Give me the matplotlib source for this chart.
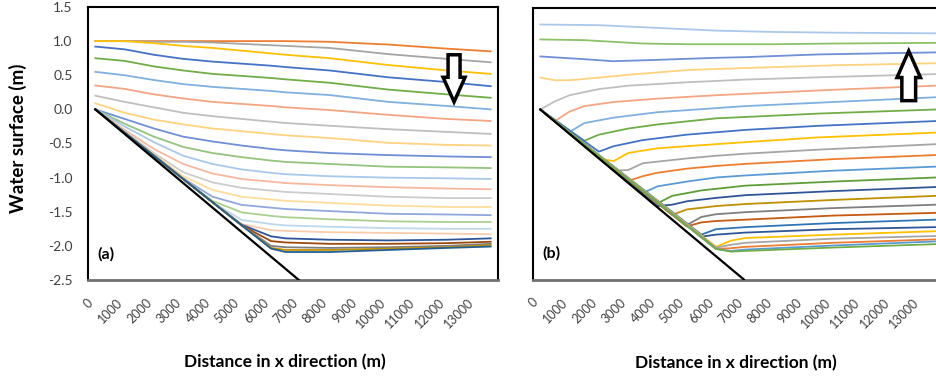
import matplotlib
matplotlib.use("Agg")
import matplotlib.pyplot as plt
from matplotlib.patches import FancyArrow

plt.rcParams['font.family'] = ['Lato', 'DejaVu Sans']

# distance categories shown on the axis
x_ticks = [0, 1000, 2000, 3000, 4000, 5000, 6000, 7000, 8000, 9000, 10000, 11000, 12000, 13000]
y_ticks = [-2.5, -2.0, -1.5, -1.0, -0.5, 0.0, 0.5, 1.0, 1.5]

# sloping bed
bed_x = [0, 6950]
bed_y = [0.0, -2.5]

# ---------------- panel (a): falling water surface ----------------
a_x = [0, 1000, 2000, 3000, 4000, 5000, 6000, 6500, 8000, 10000, 12000, 13500]
a_profiles = [
    [1.00, 1.00, 1.00, 1.00, 1.00, 1.00, 1.00, 1.00, 0.99, 0.95, 0.89, 0.85],
    [1.00, 1.00, 0.99, 0.99, 0.98, 0.96, 0.94, 0.93, 0.90, 0.81, 0.74, 0.69],
    [1.00, 1.00, 0.97, 0.93, 0.90, 0.86, 0.82, 0.80, 0.75, 0.65, 0.57, 0.52],
    [0.92, 0.88, 0.80, 0.74, 0.70, 0.67, 0.64, 0.62, 0.57, 0.47, 0.40, 0.34],
    [0.75, 0.71, 0.63, 0.57, 0.52, 0.49, 0.46, 0.44, 0.39, 0.29, 0.22, 0.17],
    [0.55, 0.50, 0.43, 0.37, 0.33, 0.30, 0.27, 0.25, 0.21, 0.11, 0.05, 0.00],
    [0.35, 0.30, 0.22, 0.16, 0.11, 0.08, 0.05, 0.03, -0.01, -0.08, -0.14, -0.17],
    [0.20, 0.11, 0.03, -0.05, -0.10, -0.14, -0.18, -0.20, -0.24, -0.29, -0.33, -0.36],
    [0.09, -0.05, -0.15, -0.22, -0.28, -0.32, -0.36, -0.38, -0.42, -0.49, -0.52, -0.53],
    [0.00, -0.14, -0.28, -0.40, -0.47, -0.53, -0.58, -0.60, -0.64, -0.67, -0.69, -0.70],
    [0.00, -0.21, -0.40, -0.55, -0.64, -0.70, -0.75, -0.77, -0.80, -0.84, -0.85, -0.86],
    [0.00, -0.25, -0.48, -0.68, -0.80, -0.88, -0.93, -0.95, -0.98, -1.00, -1.01, -1.02],
    [0.00, -0.30, -0.58, -0.80, -0.94, -1.02, -1.06, -1.08, -1.11, -1.14, -1.16, -1.17],
    [0.00, -0.32, -0.64, -0.92, -1.07, -1.15, -1.19, -1.21, -1.24, -1.28, -1.30, -1.30],
    [0.00, -0.33, -0.66, -0.98, -1.18, -1.28, -1.32, -1.34, -1.37, -1.41, -1.43, -1.43],
    [0.00, -0.34, -0.67, -1.01, -1.28, -1.40, -1.44, -1.46, -1.49, -1.53, -1.54, -1.55],
    [0.00, -0.34, -0.68, -1.02, -1.34, -1.51, -1.56, -1.58, -1.61, -1.64, -1.65, -1.65],
    [0.00, -0.34, -0.68, -1.02, -1.36, -1.62, -1.68, -1.70, -1.72, -1.74, -1.75, -1.75],
    [0.00, -0.34, -0.68, -1.02, -1.36, -1.68, -1.77, -1.78, -1.80, -1.81, -1.82, -1.83],
    [0.00, -0.34, -0.68, -1.02, -1.36, -1.69, -1.86, -1.89, -1.91, -1.92, -1.91, -1.89],
    [0.00, -0.34, -0.68, -1.02, -1.36, -1.70, -1.93, -1.95, -1.97, -1.97, -1.96, -1.94],
    [0.00, -0.34, -0.68, -1.02, -1.36, -1.70, -2.00, -2.02, -2.03, -2.02, -2.00, -1.97],
    [0.00, -0.34, -0.68, -1.02, -1.36, -1.70, -2.03, -2.06, -2.06, -2.04, -2.02, -1.99],
    [0.00, -0.34, -0.68, -1.02, -1.36, -1.70, -2.04, -2.09, -2.09, -2.06, -2.03, -2.01],
]
a_colors = ['#ED7D31', '#A5A5A5', '#FFC000', '#4472C4', '#70AD47', '#7FB0E0',
            '#F4A582', '#BFBFBF', '#FFD27F', '#6F8FD6', '#93C47D', '#A8C8EC',
            '#F7B8A0', '#CCCCCC', '#FFDC9A', '#8FA8DC', '#A9D18E', '#BDD7EE',
            '#F8CBAD', '#2F5597', '#9E480E', '#7F7F7F', '#BF9000', '#255E91']

# ---------------- panel (b): rising water surface ----------------
b_x = [
    [0, 2000, 4000, 6000, 8000, 10000, 13500],
    [0, 1500, 3500, 5000, 8000, 10000, 13500],
    [0, 1500, 2500, 4000, 6000, 7000, 9500, 13500],
    [0, 500, 1000, 2000, 3000, 5000, 7000, 10000, 13500],
    [0, 500, 1000, 2000, 3000, 5000, 7000, 10000, 13500],
    [0, 500, 1000, 1500, 2500, 4000, 6000, 8000, 10000, 13500],
    [0, 1000, 1500, 2500, 4000, 6000, 7000, 9500, 13500],
    [0, 1500, 2000, 3000, 4000, 6000, 7000, 9500, 13500],
    [0, 2000, 2500, 3500, 5000, 7000, 9500, 13500],
    [0, 2000, 2500, 3000, 4000, 6000, 7000, 9500, 13500],
    [0, 2500, 3000, 3500, 5000, 6000, 7000, 9500, 13500],
    [0, 3000, 3500, 4000, 5000, 6000, 7000, 10000, 13500],
    [0, 3500, 4000, 5000, 6000, 7000, 10000, 13500],
    [0, 4000, 4500, 5500, 7000, 10000, 13500],
    [0, 4000, 4500, 5000, 6000, 7000, 10000, 13500],
    [0, 4500, 5000, 6000, 7000, 10000, 13500],
    [0, 5000, 5500, 6000, 7000, 10000, 13500],
    [0, 5000, 5500, 6000, 7000, 10000, 13500],
    [0, 5500, 6000, 7000, 10000, 13500],
    [0, 5500, 6000, 7000, 10000, 13500],
    [0, 6000, 6500, 7000, 10000, 13500],
    [0, 6000, 6500, 7000, 10000, 13500],
    [0, 6000, 6500, 7000, 10000, 13500],
    [0, 6000, 6500, 7000, 10000, 13500],
    [0, 6000, 6500, 7000, 10000, 13500],
]
b_y = [
    [1.25, 1.24, 1.20, 1.16, 1.14, 1.13, 1.12],
    [1.03, 1.02, 0.97, 0.96, 0.96, 0.97, 0.98],
    [0.78, 0.74, 0.71, 0.73, 0.76, 0.77, 0.81, 0.84],
    [0.47, 0.43, 0.43, 0.47, 0.51, 0.58, 0.61, 0.65, 0.68],
    [0.00, 0.12, 0.21, 0.30, 0.35, 0.40, 0.44, 0.48, 0.52],
    [0.00, -0.17, -0.03, 0.05, 0.11, 0.16, 0.21, 0.25, 0.29, 0.35],
    [0.00, -0.33, -0.20, -0.12, -0.04, 0.02, 0.05, 0.10, 0.18],
    [0.00, -0.46, -0.37, -0.28, -0.22, -0.13, -0.11, -0.06, 0.00],
    [0.00, -0.62, -0.54, -0.45, -0.37, -0.30, -0.24, -0.17],
    [0.00, -0.72, -0.76, -0.64, -0.57, -0.51, -0.48, -0.41, -0.34],
    [0.00, -0.90, -0.89, -0.79, -0.72, -0.68, -0.65, -0.59, -0.51],
    [0.00, -1.05, -0.98, -0.93, -0.87, -0.83, -0.80, -0.73, -0.67],
    [0.00, -1.23, -1.13, -1.06, -1.00, -0.97, -0.90, -0.84],
    [0.00, -1.38, -1.27, -1.19, -1.12, -1.06, -1.00],
    [0.00, -1.42, -1.40, -1.35, -1.30, -1.26, -1.20, -1.14],
    [0.00, -1.55, -1.47, -1.42, -1.39, -1.33, -1.27],
    [0.00, -1.70, -1.58, -1.54, -1.51, -1.45, -1.40],
    [0.00, -1.72, -1.66, -1.64, -1.62, -1.56, -1.52],
    [0.00, -1.84, -1.76, -1.73, -1.67, -1.62],
    [0.00, -1.87, -1.84, -1.81, -1.76, -1.73],
    [0.00, -2.02, -1.93, -1.89, -1.84, -1.79],
    [0.00, -2.03, -1.99, -1.96, -1.90, -1.86],
    [0.00, -2.05, -2.04, -2.02, -1.96, -1.91],
    [0.00, -2.05, -2.08, -2.06, -2.00, -1.94],
    [0.00, -2.05, -2.09, -2.08, -2.03, -1.98],
]
b_colors = ['#A9C8EC', '#8CC168', '#6F8FD6', '#FFD27F', '#BFBFBF', '#F4A582',
            '#7FB0E0', '#70AD47', '#4472C4', '#FFC000', '#A5A5A5', '#ED7D31',
            '#5B9BD5', '#5E9E3A', '#2F5597', '#BF9000', '#7F7F7F', '#C55A11',
            '#2E75B6', '#2F5597', '#FFC000', '#A5A5A5', '#ED7D31', '#5B9BD5',
            '#70AD47']


def style_axes(ax, show_y):
    ax.set_xlim(-250, 13750)
    ax.set_ylim(-2.5, 1.5)
    ax.set_xticks(x_ticks)
    ax.set_xticklabels([str(v) for v in x_ticks], rotation=45, ha='right',
                       va='top', fontsize=9, color='#404040')
    ax.set_yticks(y_ticks)
    if show_y:
        ax.set_yticklabels(['%.1f' % v for v in y_ticks], fontsize=10, color='#404040')
    else:
        ax.set_yticklabels([])
    ax.tick_params(axis='x', length=0, pad=12)
    ax.tick_params(axis='y', length=0, pad=11)
    for s in ['left', 'top', 'right']:
        ax.spines[s].set_color('black')
        ax.spines[s].set_linewidth(1.5)
    ax.spines['bottom'].set_color('#707070')
    ax.spines['bottom'].set_linewidth(2.0)


fig = plt.figure(figsize=(9.36, 3.79), dpi=100)
ax_a = fig.add_axes([88 / 936, 1 - 280 / 379, 410 / 936, 273 / 379])
ax_b = fig.add_axes([533 / 936, 1 - 279.5 / 379, 410 / 936, 272 / 379])

for ys, c in zip(a_profiles, a_colors):
    ax_a.plot(a_x, ys, color=c, lw=1.3, solid_joinstyle='round')
ax_a.plot(bed_x, bed_y, color='black', lw=1.6, zorder=5)

for xs, ys, c in zip(b_x, b_y, b_colors):
    ax_b.plot(xs, ys, color=c, lw=1.3, solid_joinstyle='round')
ax_b.plot(bed_x, bed_y, color='black', lw=1.6, zorder=5)

style_axes(ax_a, True)
style_axes(ax_b, False)

# hollow arrows showing direction of water level change
ax_a.add_patch(FancyArrow(12250, 0.80, 0, -0.69, width=410, head_width=750,
                          head_length=0.36, length_includes_head=True,
                          fc='white', ec='black', lw=2.5, zorder=6))
ax_b.add_patch(FancyArrow(12580, 0.13, 0, 0.73, width=470, head_width=800,
                          head_length=0.39, length_includes_head=True,
                          fc='white', ec='black', lw=2.5, zorder=6))

ax_a.text(60, -2.12, '(a)', fontsize=11.5, fontweight='bold', ha='left', va='center')
ax_b.text(60, -2.12, '(b)', fontsize=11.5, fontweight='bold', ha='left', va='center')

fig.text(17.5 / 936, 1 - 138 / 379, 'Water surface (m)', rotation=90,
         fontsize=13.5, fontweight='bold', ha='center', va='center')
fig.text(285 / 936, 1 - 362 / 379, 'Distance in x direction (m)',
         fontsize=12.5, fontweight='bold', ha='center', va='center')
fig.text(736 / 936, 1 - 363 / 379, 'Distance in x direction (m)',
         fontsize=12.5, fontweight='bold', ha='center', va='center')

fig.savefig('out.png', dpi=100)
